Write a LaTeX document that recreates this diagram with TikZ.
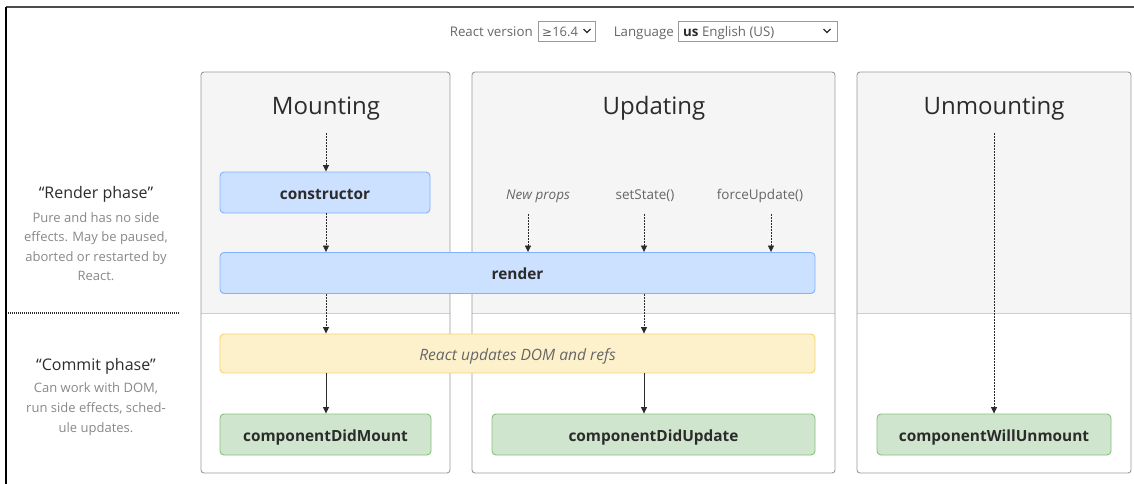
\documentclass[tikz,border=0pt]{standalone}
\usepackage{fontspec}
\setmainfont{Open Sans}
\newfontfamily\symfont{DejaVu Sans}
\usetikzlibrary{arrows.meta}

\definecolor{panelfill}{HTML}{F5F5F5}
\definecolor{panelline}{HTML}{9A9A9A}
\definecolor{divline}{HTML}{CFCFCF}
\definecolor{bluefill}{HTML}{CCE0FF}
\definecolor{blueline}{HTML}{80B3FF}
\definecolor{yellowfill}{HTML}{FDF1CC}
\definecolor{yellowline}{HTML}{F5D46E}
\definecolor{greenfill}{HTML}{D0E5CD}
\definecolor{greenline}{HTML}{85C27B}
\definecolor{ink}{HTML}{2B2B2B}
\definecolor{softink}{HTML}{666666}
\definecolor{paleink}{HTML}{888888}

\begin{document}
\begin{tikzpicture}[x=1pt,y=-1pt,
  heading/.style={text=ink, font=\fontsize{24}{28}\selectfont, inner sep=0,
    text height=18pt, text depth=0pt},
  stepbox/.style={rounded corners=4, line width=0.9, minimum height=41,
    font=\fontsize{15.4}{18}\selectfont\bfseries, text=ink, inner sep=0,
    text height=13pt, text depth=0pt},
  bluebox/.style={stepbox, fill=bluefill, draw=blueline},
  yellowbox/.style={stepbox, fill=yellowfill, draw=yellowline, minimum height=39,
    font=\fontsize{15.6}{18}\selectfont\itshape, text=softink},
  greenbox/.style={stepbox, fill=greenfill, draw=greenline},
  trigger/.style={text=softink, font=\fontsize{13.5}{16}\selectfont, inner sep=0,
    text height=11pt, text depth=0pt},
  phase/.style={text=ink, font=\fontsize{16}{19}\selectfont, inner sep=0,
    text height=12pt, text depth=0pt},
  phasenote/.style={text=paleink, font=\fontsize{13}{19.3}\selectfont, align=center, inner sep=0},
  flow/.style={draw=ink, line width=0.8, -{Triangle[length=6.5pt,width=6pt]}},
  dflow/.style={flow, dash pattern=on 1.6pt off 1.4pt},
  panel/.style={draw=panelline, line width=0.9, rounded corners=3},
  toplabel/.style={text=softink, font=\fontsize{13.3}{16}\selectfont, inner sep=0,
    text height=11pt, text depth=0pt},
  selectbox/.style={draw=panelline, line width=0.9},
  chevron/.style={draw=ink, line width=1.3, line join=miter, line cap=butt}
]
\useasboundingbox (0,0) rectangle (1134,484);

% page frame
\draw[draw=black!70, line width=1.5] (6,7) -- (1134,7);
\draw[draw=black, line width=2] (6,7) -- (6,484);

% version and language pickers
\node[toplabel, anchor=east] (verlabel) at (533,31) {React version};
\draw[selectbox] (538,21) rectangle (595,41);
\node[toplabel, anchor=west, font=\fontsize{13}{16}\selectfont] (version) at (542,31) {{\symfont\fontsize{12}{16}\selectfont ≥}16.4};
\draw[chevron] (583.5,29) -- (587,32.5) -- (590.5,29);
\node[toplabel, anchor=east] (langlabel) at (674,31) {Language};
\draw[selectbox] (678,21) rectangle (837,41);
\node[toplabel, anchor=west, font=\fontsize{13.3}{16}\selectfont] (language) at (683,31) {\textcolor{ink}{\textbf{us}} English (US)};
\draw[chevron] (823.5,29) -- (827,32.5) -- (830.5,29);

% the three lifecycle columns: grey render half, white commit half
\foreach \xa/\xb in {201/450, 472/835, 857/1131} {
  \begin{scope}
    \clip[rounded corners=3] (\xa,72) rectangle (\xb,473);
    \fill[white] (\xa,72) rectangle (\xb,473);
    \fill[panelfill] (\xa,72) rectangle (\xb,313);
    \draw[divline, line width=0.9] (\xa,313) -- (\xb,313);
  \end{scope}
  \draw[panel] (\xa,72) rectangle (\xb,473);
}

% column headings
\node[heading] (hmount) at (326,106) {Mounting};
\node[heading] (hupdate) at (654,106) {Updating};
\node[heading] (hunmount) at (994,106) {Unmounting};

% phase descriptions
\node[phase] (render phase) at (96,192) {“Render phase”};
\node[phasenote, anchor=north] (rendernote) at (96,212.5)
  {Pure and has no side\\effects. May be paused,\\aborted or restarted by\\React.};
\draw[draw=ink, line width=1.2, dash pattern=on 1pt off 1pt] (8,313) -- (180,313);
\node[phase] (commit phase) at (96,364) {“Commit phase”};
\node[phasenote, anchor=north, font=\fontsize{13}{20}\selectfont] (commitnote) at (96,382.5)
  {Can work with DOM,\\run side effects, sched-\\ule updates.};

% lifecycle steps
\node[bluebox, minimum width=210] (cons) at (325,192.5) {constructor};
\node[bluebox, minimum width=595] (render) at (517.5,273) {render};
\node[yellowbox, minimum width=595] (dom) at (517.5,353.5) {React updates DOM and refs};
\node[greenbox, minimum width=211] (didmount) at (325.5,434.5) {componentDidMount};
\node[greenbox, minimum width=323] (didupdate) at (653.5,434.5) {componentDidUpdate};
\node[greenbox, minimum width=234] (willunmount) at (994,434.5) {componentWillUnmount};

% update triggers
\node[trigger, font=\fontsize{13.5}{16}\selectfont\itshape] (newprops) at (538,194) {New props};
\node[trigger] (setstate) at (645,194) {setState()};
\node[trigger] (forceupdate) at (760,194) {forceUpdate()};

% arrow tails
\coordinate (mtail) at (326,133);
\coordinate (utail) at (994,133);
\coordinate (nptail) at (528,214);
\coordinate (sstail) at (644,214);
\coordinate (futail) at (771,214);

% mounting flow
\draw[dflow] (mtail) -- (mtail |- cons.north);
\draw[dflow] (cons.south -| mtail) -- (mtail |- render.north);
\draw[dflow] (render.south -| mtail) -- (mtail |- dom.north);
\draw[flow] (dom.south -| mtail) -- (mtail |- didmount.north);

% updating flow
\draw[dflow] (nptail) -- (nptail |- render.north);
\draw[dflow] (sstail) -- (sstail |- render.north);
\draw[dflow] (futail) -- (futail |- render.north);
\draw[dflow] (render.south -| sstail) -- (sstail |- dom.north);
\draw[flow] (dom.south -| sstail) -- (sstail |- didupdate.north);

% unmounting flow
\draw[dflow] (utail) -- (utail |- willunmount.north);
\end{tikzpicture}
\end{document}
